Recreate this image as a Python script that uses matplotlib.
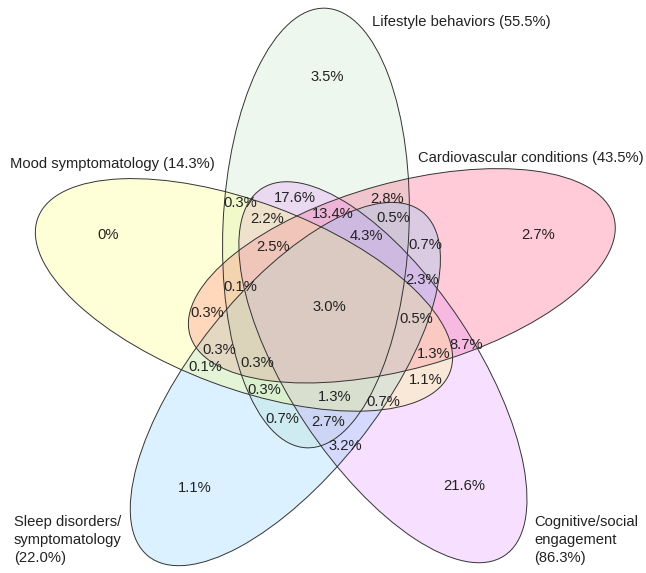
import numpy as np
import matplotlib
matplotlib.use("Agg")
import matplotlib.pyplot as plt
from matplotlib.patches import Ellipse
from matplotlib import font_manager

# ---------------- data ----------------
set_names = ["Lifestyle behaviors", "Cardiovascular conditions",
             "Cognitive/social\nengagement", "Sleep disorders/\nsymptomatology",
             "Mood symptomatology"]
set_pcts = ["55.5%", "43.5%", "86.3%", "22.0%", "14.3%"]

region_values = ["3.5%", "0%", "2.7%", "0.3%", "17.6%", "2.2%", "13.4%", "2.8%",
                 "0.5%", "4.3%", "0.7%", "2.5%", "2.3%", "0.1%", "3.0%", "0.3%",
                 "0.5%", "0.3%", "1.3%", "8.7%", "0.1%", "0.3%", "1.1%", "0.3%",
                 "1.3%", "0.7%", "0.7%", "2.7%", "3.2%", "1.1%", "21.6%"]

# ---------------- layout (pixel space) ----------------
region_pos = [(327, 77), (108, 235), (538, 235), (240, 203), (295, 198), (267, 219),
              (333, 214), (387, 199), (393, 218), (366, 236), (425, 245), (273, 247),
              (422, 280), (240, 287), (329, 307), (207, 313), (416, 319), (219, 350),
              (434, 354), (466, 345), (205, 367), (257, 363), (426, 380), (264, 390),
              (335, 397), (383, 402), (282, 419), (328, 422), (345, 446), (195, 488),
              (464, 486)]

fill_colors = ["#bbe3bb", "#ff336b", "#e383ff", "#73cbff", "#ffff63"]
alpha = 0.25

W, H = 646, 573
fig = plt.figure(figsize=(W / 100, H / 100), dpi=100)
ax = fig.add_axes([0, 0, 1, 1])
ax.set_xlim(0, W)
ax.set_ylim(H, 0)
ax.set_aspect("equal")
ax.axis("off")

O = np.array([326.0, 311.0])
d = 83.6
phi0 = 96.9
theta0 = 87.5
A, B = 220.0, 93.0

centers = []
angles = []
for i in range(5):
    phi = np.deg2rad(phi0 - 72 * i)
    c = O + d * np.array([np.cos(phi), -np.sin(phi)])
    centers.append(c)
    angles.append(-(theta0 - 72 * i))

for i in range(5):
    ax.add_patch(Ellipse(centers[i], 2 * A, 2 * B, angle=angles[i],
                         facecolor=fill_colors[i], alpha=alpha, edgecolor="none"))
for i in range(5):
    ax.add_patch(Ellipse(centers[i], 2 * A, 2 * B, angle=angles[i],
                         facecolor="none", edgecolor="#333333", linewidth=0.7))

names_avail = {f.name for f in font_manager.fontManager.ttflist}
if "Liberation Sans Narrow" in names_avail:
    fam = ["Liberation Sans Narrow", "DejaVu Sans"]
    fs = 12
else:
    fam = ["Liberation Sans", "DejaVu Sans"]
    fs = 10.6

for v, (x, y) in zip(region_values, region_pos):
    ax.text(x, y, v, ha="center", va="center", fontsize=fs, family=fam, color="#222222")

cat_pos = [(372, 22), (418, 158), (534, 540), (14, 540), (10, 164)]
for name, pct, (x, y) in zip(set_names, set_pcts, cat_pos):
    label = f"{name} ({pct})" if "\n" not in name else f"{name}\n({pct})"
    ax.text(x, y, label, ha="left", va="center", fontsize=fs, family=fam,
            color="#222222", linespacing=1.35)

fig.savefig("out.png", dpi=100)
